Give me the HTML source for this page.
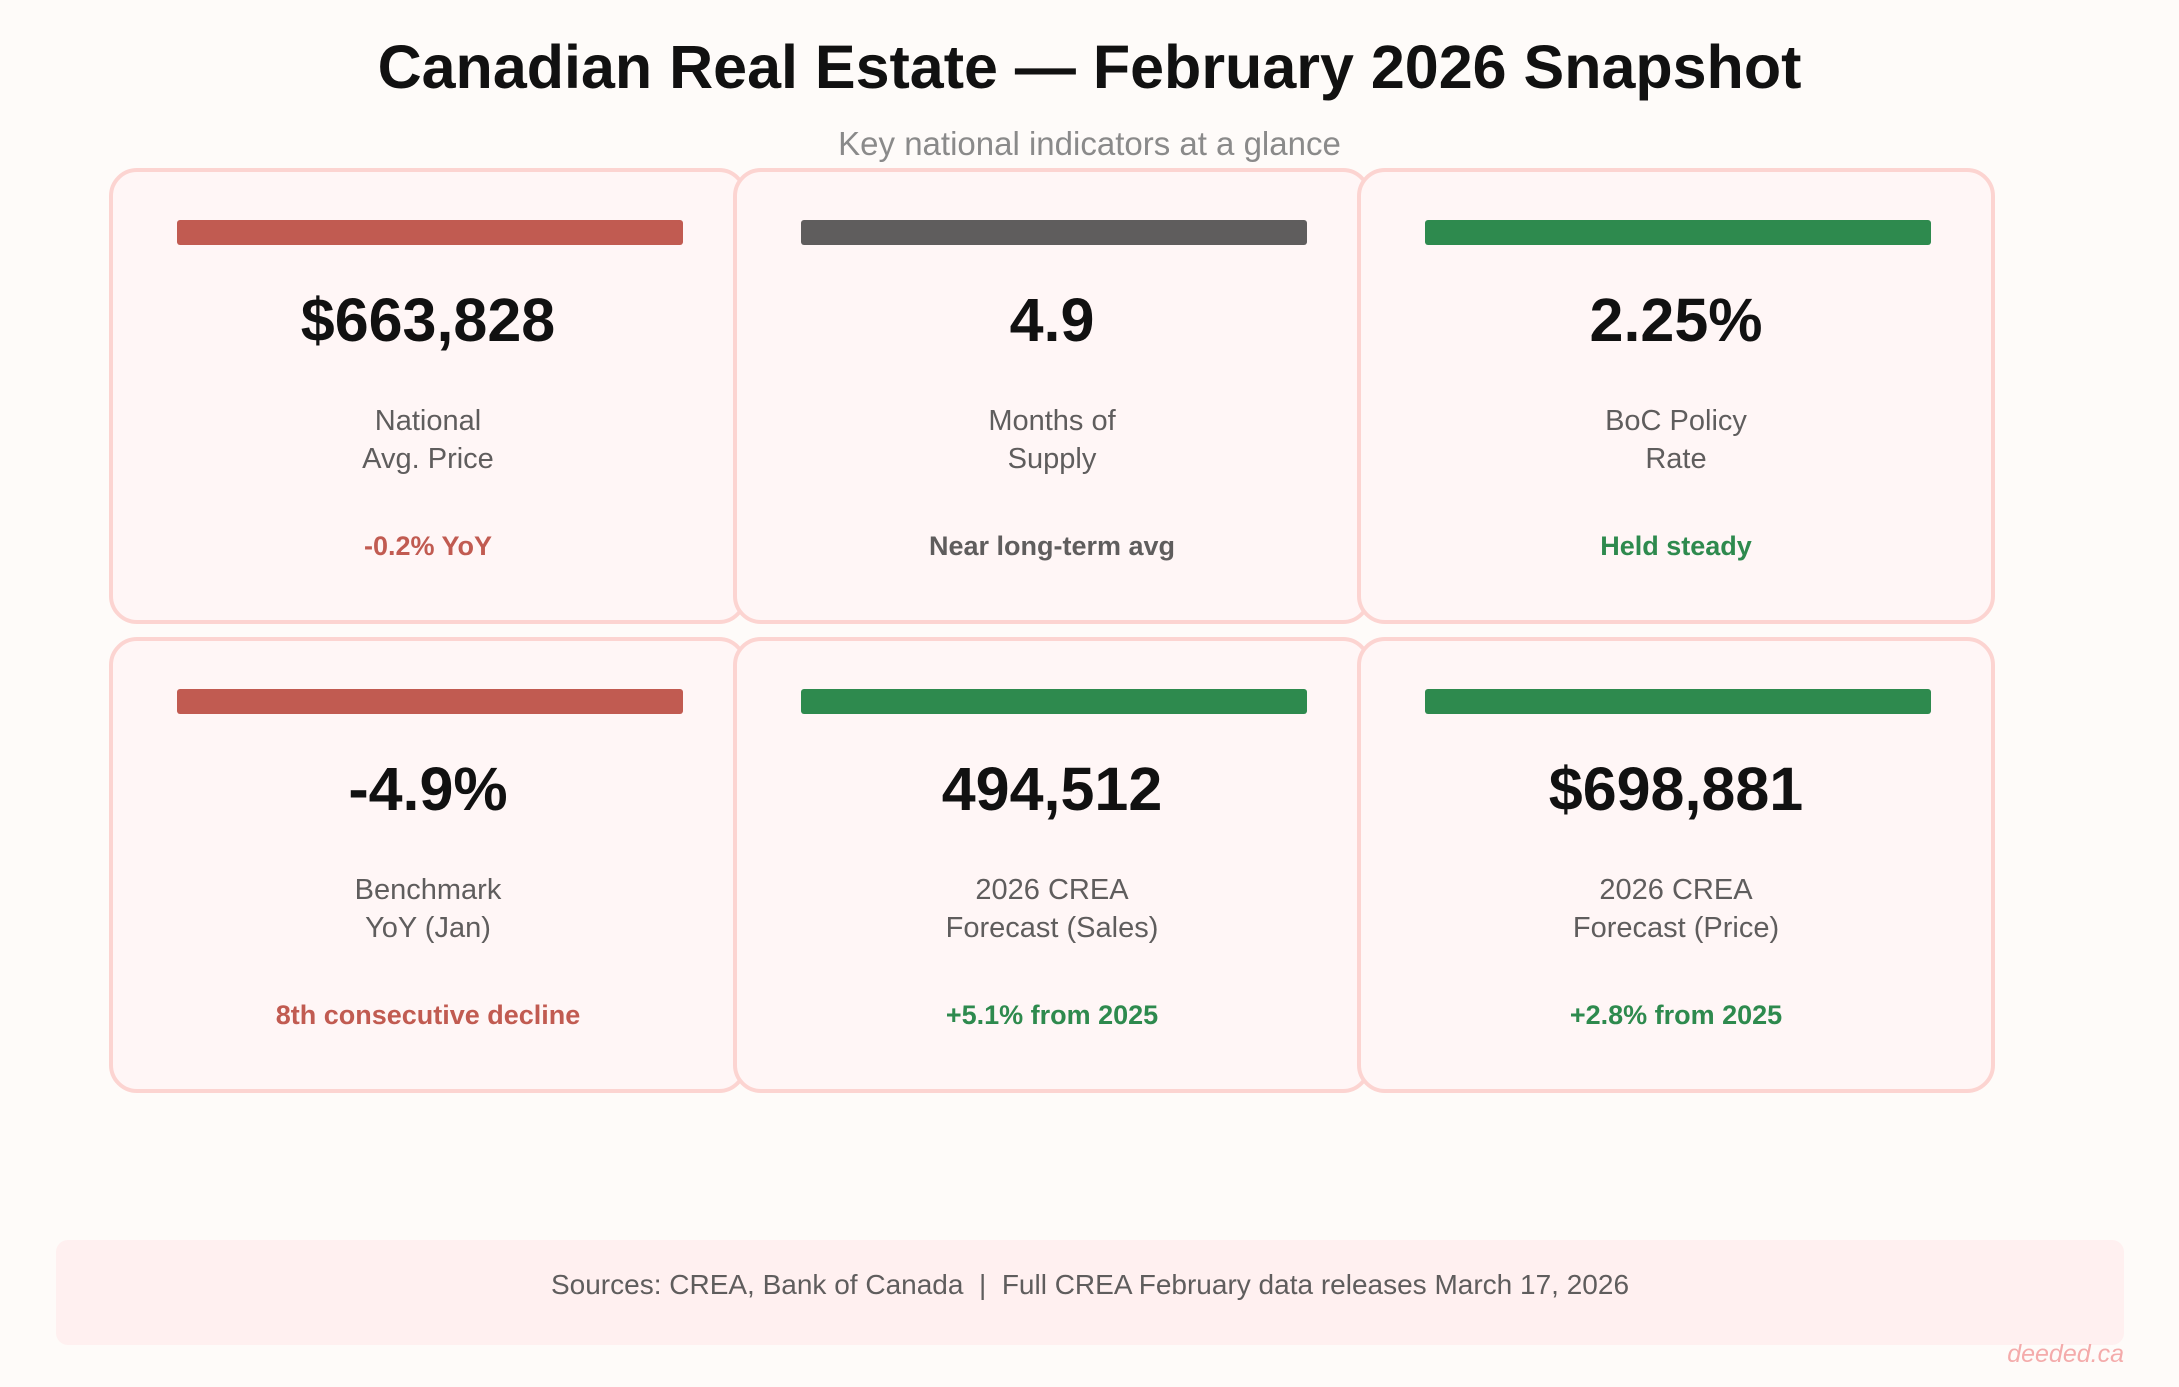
<!DOCTYPE html>
<html><head><meta charset="utf-8"><style>
body{margin:0;width:2179px;height:1387px;background:#fefbf9;font-family:"Liberation Sans",sans-serif;position:relative;overflow:hidden}
.t{position:absolute;left:0;width:2179px;text-align:center}
.card{position:absolute;width:638px;height:456px;border:4px solid #fcd4d1;border-radius:28px;background:#fff6f6;box-sizing:border-box}
.bar{position:absolute;left:64px;top:48px;width:506px;height:25px;border-radius:3px}
.val{position:absolute;left:0;width:100%;text-align:center;top:108px;font-size:61px;font-weight:bold;color:#111;line-height:80px}
.lab{position:absolute;left:0;width:100%;text-align:center;top:230px;font-size:29px;color:#5f5d5d;line-height:38px}
.note{position:absolute;left:0;width:100%;text-align:center;top:356px;font-size:27px;font-weight:bold;line-height:36px}
</style></head><body>
<div class="t" style="top:30px;font-size:61px;font-weight:bold;color:#111;line-height:74px">Canadian Real Estate — February 2026 Snapshot</div>
<div class="t" style="top:125px;font-size:33px;color:#8a8a8a;line-height:38px">Key national indicators at a glance</div>

<div class="card" style="left:109px;top:168px"><div class="bar" style="background:#c15b51"></div><div class="val">$663,828</div><div class="lab">National<br>Avg. Price</div><div class="note" style="color:#c15b51">-0.2% YoY</div></div>
<div class="card" style="left:733px;top:168px"><div class="bar" style="background:#5f5d5d"></div><div class="val">4.9</div><div class="lab">Months of<br>Supply</div><div class="note" style="color:#5f5d5d">Near long-term avg</div></div>
<div class="card" style="left:1357px;top:168px"><div class="bar" style="background:#2e8a4e"></div><div class="val">2.25%</div><div class="lab">BoC Policy<br>Rate</div><div class="note" style="color:#2e8a4e">Held steady</div></div>

<div class="card" style="left:109px;top:637px"><div class="bar" style="background:#c15b51"></div><div class="val">-4.9%</div><div class="lab">Benchmark<br>YoY (Jan)</div><div class="note" style="color:#c15b51">8th consecutive decline</div></div>
<div class="card" style="left:733px;top:637px"><div class="bar" style="background:#2e8a4e"></div><div class="val">494,512</div><div class="lab">2026 CREA<br>Forecast (Sales)</div><div class="note" style="color:#2e8a4e">+5.1% from 2025</div></div>
<div class="card" style="left:1357px;top:637px"><div class="bar" style="background:#2e8a4e"></div><div class="val">$698,881</div><div class="lab">2026 CREA<br>Forecast (Price)</div><div class="note" style="color:#2e8a4e">+2.8% from 2025</div></div>

<div style="position:absolute;left:56px;top:1240px;width:2068px;height:105px;background:#fff0f0;border-radius:12px;text-align:center;line-height:90px;font-size:28px;color:#5f5d5d;white-space:pre">Sources: CREA, Bank of Canada  |  Full CREA February data releases March 17, 2026</div>
<div style="position:absolute;right:55px;top:1340px;font-size:25px;font-style:italic;color:#f4abab">deeded.ca</div>
</body></html>
